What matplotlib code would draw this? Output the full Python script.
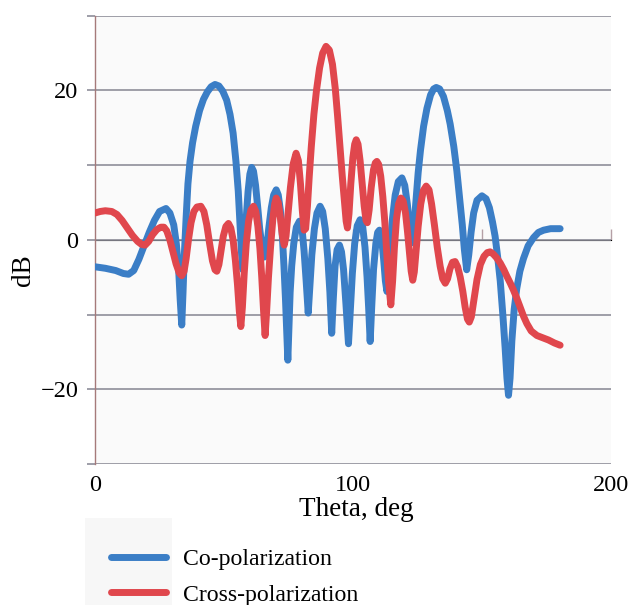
import matplotlib
matplotlib.use("Agg")
import matplotlib.pyplot as plt
from matplotlib.patches import Rectangle

# Co-polarization (blue)
theta_co = [0, 4, 8, 11, 13, 15, 17, 19, 21, 23, 25, 27.5, 29, 30.5, 31.5, 32.4, 33.0,
            33.6, 34.1, 34.6, 35.3, 36, 36.8, 37.8, 39, 40.5, 42, 43.5, 45, 46.5, 48,
            49.5, 51, 52.3, 53.5, 54.6, 55.5, 56.2, 56.8, 57.3, 57.8, 58.5, 59.3, 60,
            60.7, 61.4, 62.2, 63, 63.8, 64.8, 65.6, 66.4, 67.3, 68.3, 69.2, 70.2, 71,
            71.8, 72.5, 73.2, 73.8, 74.3, 74.7, 75.1, 75.6, 76.2, 77, 78, 79.2, 80.2, 81,
            81.8, 82.6, 83.3, 84, 85, 86, 87.2, 88.2, 89.2, 90.2, 91, 91.7, 92.3, 93,
            93.8, 94.7, 95.5, 96.3, 97.2, 98.2, 98.9, 99.7, 100.6, 101.6, 102.7, 103.7,
            104.6, 105.4, 106.0, 106.6, 107.2, 107.9, 108.8, 109.5, 110.2, 111, 111.8,
            112.5, 113.1, 113.7, 114.4, 115.3, 116.3, 117.5, 118.9, 120, 121, 121.8,
            122.7, 123.5, 124.3, 125.2, 126.1, 127.3, 128.6, 130, 131.2, 132.2, 133.5,
            135, 136.5, 137.6, 139, 140.2, 141.3, 142.3, 143.1, 144, 144.8, 145.7, 146.7,
            148, 149.9, 151.5, 152.8, 154, 155, 156, 157, 158, 158.9, 159.6, 160.2,
            160.8, 161.5, 162.4, 163.4, 164.6, 166, 167.8, 169.9, 171.8, 173.8, 176.5,
            180.2]
db_co = [-3.6, -3.8, -4.1, -4.5, -4.6, -4.1, -2.6, -0.8, 1.0, 2.6, 3.8, 4.2, 3.6, 2.0,
         -0.5, -4.0, -8.0, -11.4, -7.0, -2.0, 3.0, 7.5, 10.5, 13.0, 15.2, 17.3, 18.8,
         19.8, 20.5, 20.8, 20.6, 19.9, 18.7, 16.8, 14.3, 10.5, 6.5, 2.0, -2.0, -4.0,
         -1.5, 2.5, 6.5, 8.8, 9.7, 9.2, 7.3, 4.5, 1.5, -1.2, -2.3, -1.5, 1.5, 4.3, 6.0,
         6.7, 6.0, 4.0, 1.0, -3.5, -8.0, -12.5, -16.1, -12.0, -7.0, -3.5, -0.5, 1.7,
         2.5, 1.5, -1.5, -5.5, -9.8, -6.0, -2.0, 1.5, 3.6, 4.5, 3.8, 1.5, -2.5, -7.0,
         -12.5, -8.0, -3.5, -1.3, -0.7, -1.6, -4.0, -8.5, -13.9, -9.5, -4.5, -0.5, 1.9,
         2.7, 1.8, -1.0, -5.0, -9.0, -13.6, -9.0, -4.0, -0.5, 1.0, 1.3, 0.3, -2.5, -5.5,
         -6.9, -4.5, -0.5, 3.0, 6.0, 7.8, 8.3, 7.3, 4.8, 2.0, -0.4, 1.5, 5.0, 9.0, 12.0,
         15.2, 17.6, 19.4, 20.2, 20.4, 20.2, 19.2, 17.3, 15.5, 12.5, 9.2, 5.5, 2.0,
         -1.3, -4.0, -2.0, 1.0, 3.6, 5.3, 5.9, 5.5, 4.3, 2.4, 0.5, -2.3, -5.5, -10.0,
         -14.5, -18.5, -20.8, -18.5, -13.5, -9.3, -6.5, -4.2, -2.5, -0.8, 0.3, 1.0, 1.3,
         1.5, 1.5]

# Cross-polarization (red)
theta_x = [0, 2, 4, 6.5, 8.5, 10.5, 12.5, 14.5, 16.5, 18, 19.4, 20.8, 22.3, 24, 25.5,
           26.7, 27.8, 29, 30.2, 31.4, 32.6, 33.6, 34.5, 35.3, 36.2, 37.2, 38.3, 39.5,
           41, 42.2, 43.3, 44.4, 45.5, 46.5, 47.2, 48, 48.8, 49.7, 50.7, 51.7, 52.6,
           53.5, 54.4, 55.2, 55.9, 56.5, 57.1, 57.8, 58.6, 59.5, 60.4, 61.4, 62.3, 63.1,
           63.9, 64.6, 65.3, 65.9, 66.5, 67.2, 68, 68.9, 69.6, 70.2, 71, 71.8, 72.5,
           73.3, 74, 74.8, 75.7, 76.8, 77.9, 78.8, 79.6, 80.3, 81, 81.6, 82.3, 83, 83.8,
           84.8, 85.8, 87, 88.2, 89.5, 90.8, 92, 93.1, 94, 94.9, 95.8, 96.7, 97.3, 97.8,
           98.4, 99.1, 99.9, 100.6, 101.2, 101.9, 102.7, 103.5, 104.3, 105, 105.5,
           106.2, 107, 107.9, 108.6, 109.2, 109.9, 110.7, 111.5, 112.3, 113.0, 113.7,
           114.6, 115.3, 116, 116.8, 117.6, 118.5, 119.4, 120.3, 121.1, 121.9, 122.5,
           123.1, 123.7, 124.4, 125.2, 126.2, 127.2, 128.3, 129.4, 130.4, 131.5, 132.6,
           133.7, 134.7, 135.7, 136.6, 137.5, 138.5, 139.5, 140.5, 141.5, 142.5, 143.4,
           144.3, 145, 145.8, 146.8, 148, 149.3, 150.7, 152, 153.1, 154.3, 155.6, 157,
           158.4, 159.6, 160.9, 162.1, 163.4, 164.7, 166, 167.3, 169, 171.2, 173.5,
           175.7, 178, 180.2]
db_x = [3.6, 3.8, 3.9, 3.8, 3.4, 2.6, 1.6, 0.6, -0.2, -0.6, -0.7, -0.2, 0.7, 1.4, 1.7,
        1.7, 1.2, 0.0, -1.6, -3.2, -4.4, -4.8, -4.2, -2.5, 0.0, 2.3, 3.8, 4.4, 4.5, 3.8,
        2.0, -0.5, -2.8, -4.0, -4.2, -3.3, -1.5, 0.5, 1.8, 2.2, 1.6, 0.0, -2.8, -6.0,
        -9.5, -11.6, -9.0, -4.5, -0.5, 2.5, 4.0, 4.5, 3.8, 1.8, -1.2, -5.0, -9.5, -12.8,
        -9.5, -5.0, -1.0, 2.8, 4.8, 5.6, 5.0, 3.0, 0.8, -0.7, 0.5, 3.5, 7.0, 10.2, 11.6,
        10.6, 7.5, 4.0, 1.3, 1.5, 4.5, 8.5, 12.5, 16.8, 20.0, 23.0, 25.0, 25.9, 25.4,
        23.5, 20.2, 16.5, 12.5, 8.5, 4.8, 2.5, 1.6, 3.5, 7.5, 11.0, 12.8, 13.4, 12.8,
        10.6, 7.5, 4.5, 2.6, 2.3, 4.0, 7.0, 9.4, 10.3, 10.5, 10.1, 8.5, 5.8, 2.3, -1.5,
        -5.5, -8.7, -5.5, -1.0, 2.8, 4.8, 5.6, 5.2, 3.6, 1.0, -2.0, -4.2, -5.4, -4.3,
        -1.5, 1.8, 4.8, 6.6, 7.2, 6.7, 4.8, 2.0, -1.0, -3.5, -5.2, -5.8, -5.2, -3.9,
        -3.0, -2.9, -3.6, -5.0, -6.9, -9.0, -10.6, -11.0, -10.3, -8.0, -5.3, -3.3, -2.2,
        -1.7, -1.6, -1.9, -2.4, -3.1, -4.0, -4.9, -5.8, -6.7, -7.8, -9.0, -10.2, -11.2,
        -12.2, -12.8, -13.1, -13.4, -13.8, -14.1]

x_ticks = [0, 100, 200]
y_ticks = [-30, -20, -10, 0, 10, 20, 30]
y_ticklabels = ["", "\u221220", "", "0", "", "20", ""]

plt.rcParams["font.family"] = ["Liberation Serif", "DejaVu Serif"]

fig = plt.figure(figsize=(6.28, 6.05), dpi=100)
# faint panel behind the legend handles
fig.patches.append(Rectangle((0.135, 0.0), 0.139, 0.144, transform=fig.transFigure,
                             facecolor="#f7f7f7", edgecolor="none", zorder=0))

ax = fig.add_axes([0.1513, 0.233, 0.822, 0.741])
ax.set_facecolor("#fafafa")

grid_c = "#8e8e99"
ax.set_xlim(0, 200)
ax.set_ylim(-30, 30)
ax.set_yticks(y_ticks)
ax.set_yticklabels(y_ticklabels, fontsize=17.5)
ax.set_xticks(x_ticks)
ax.set_xticklabels([str(v) for v in x_ticks], fontsize=17.5)
ax.yaxis.grid(True, color=grid_c, lw=1.2)
ax.tick_params(axis="y", length=6, color=grid_c, width=1.2, pad=6)
ax.tick_params(axis="x", length=0, pad=8)
for side in ["top", "right", "bottom"]:
    ax.spines[side].set_visible(False)
ax.spines["left"].set_color("#a57a7a")
ax.spines["left"].set_linewidth(1.0)

# x axis drawn through 0 dB with small downward ticks
sec = ax.secondary_xaxis(0.5)
sec.set_xticks([50, 100, 150, 200])
sec.set_xticklabels([])
sec.tick_params(length=8, color="#b5a0a6", width=1.0, direction="out")
sec.spines["bottom"].set_color("#b5a0a6")
sec.spines["bottom"].set_linewidth(1.2)

ax.plot(theta_co, db_co, color="#3b7ec6", lw=5, solid_capstyle="round",
        solid_joinstyle="round", label="Co-polarization", zorder=3)
ax.plot(theta_x, db_x, color="#e0474d", lw=5, solid_capstyle="round",
        solid_joinstyle="round", label="Cross-polarization", zorder=4)

ax.set_xlabel("Theta, deg", fontsize=19.5)
ax.xaxis.set_label_coords(0.506, -0.073)
ax.set_ylabel("dB", fontsize=19.5)
ax.yaxis.set_label_coords(-0.115, 0.433)

fig.legend(loc="upper left", bbox_to_anchor=(0.161, 0.109), frameon=False,
           fontsize=17.1, handlelength=2.35, handletextpad=0.7, labelspacing=0.58,
           borderaxespad=0)

fig.savefig("out.png", dpi=100)
